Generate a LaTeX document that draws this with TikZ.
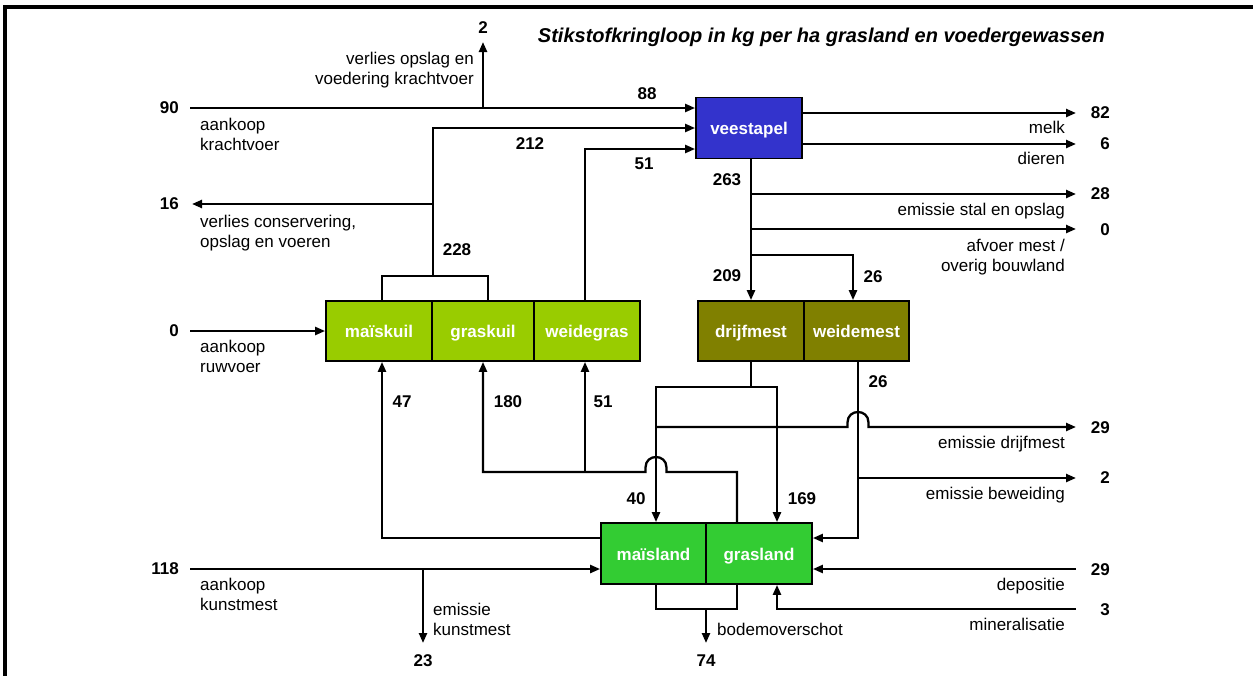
\documentclass[tikz,border=0pt]{standalone}
\usepackage{fontspec}
\setmainfont{Liberation Sans}
\usetikzlibrary{arrows.meta}
\definecolor{cblue}{HTML}{3333CC}
\definecolor{ckuil}{HTML}{99CC00}
\definecolor{cmest}{HTML}{808000}
\definecolor{cland}{HTML}{33CC33}
\begin{document}
\begin{tikzpicture}[x=1pt,y=-1pt,
  flow/.style={line width=2.3pt},
  arr/.style={flow,-{Triangle[length=10pt,width=8pt]}},
  box/.style={draw=black,line width=1.8pt,minimum height=61pt,inner sep=0pt,text height=14pt,text depth=1pt,text=white,font=\fontsize{17}{20}\selectfont\bfseries},
  num/.style={inner sep=0pt,font=\fontsize{17}{20}\selectfont\bfseries},
  lbl/.style={inner sep=0pt,font=\fontsize{17}{20}\selectfont},
]
\useasboundingbox (0,0) rectangle (1253,675);
\clip (0,0) rectangle (1253,675);
\draw[line width=3.5pt] (5,720) -- (5,7) -- (1300,7);

% title
\node[inner sep=0pt,anchor=base east,font=\fontsize{20}{24}\selectfont\bfseries\itshape] (title) at (1105,42) {Stikstofkringloop in kg per ha grasland en voedergewassen};

% boxes
\node[box,fill=cblue,minimum width=106pt] (vee) at (749,128) {veestapel};
\node[box,fill=ckuil,minimum width=106pt,minimum height=60pt] (maiskuil) at (379,331) {maïskuil};
\node[box,fill=ckuil,minimum width=102pt,minimum height=60pt] (graskuil) at (483,331) {graskuil};
\node[box,fill=ckuil,minimum width=106pt,minimum height=60pt] (weidegras) at (587,331) {weidegras};
\node[box,fill=cmest,minimum width=106pt,minimum height=60pt] (drijfmest) at (751,331) {drijfmest};
\node[box,fill=cmest,minimum width=105pt,minimum height=60pt] (weidemest) at (856.5,331) {weidemest};
\node[box,fill=cland,minimum width=105pt] (maisland) at (653.5,553.5) {maïsland};
\node[box,fill=cland,minimum width=106pt] (grasland) at (759,553.5) {grasland};

% helper coordinates
\coordinate (c90) at (190,108);
\coordinate (c2) at (483,42);
\coordinate (j228) at (433,276);
\coordinate (c16) at (192,204);
\coordinate (o82) at (1076,113);
\coordinate (o6) at (1076,144);
\coordinate (o28) at (1076,194);
\coordinate (o0) at (1076,229);
\coordinate (b26) at (751,255);
\coordinate (c0) at (190,331);
\coordinate (md) at (751,387);
\coordinate (o29) at (1076,427);
\coordinate (o2) at (1076,478);
\coordinate (h472) at (737,472);
\coordinate (c118) at (190,569);
\coordinate (o23) at (423,643);
\coordinate (bb) at (706,609);
\coordinate (o74) at (706,643);
\coordinate (i29) at (1076,569);
\coordinate (i3) at (1076,609);
\coordinate (mkn) at ([xshift=3pt]maiskuil.north);
\coordinate (gkn) at ([xshift=5pt]graskuil.north);
\coordinate (mks) at ([xshift=3pt]maiskuil.south);
\coordinate (wgn) at ([xshift=-2pt]weidegras.north);
\coordinate (wgs) at ([xshift=-2pt]weidegras.south);
\coordinate (wmn) at ([xshift=-3.5pt]weidemest.north);
\coordinate (wms) at ([xshift=1.5pt]weidemest.south);
\coordinate (mln) at ([xshift=2.5pt]maisland.north);
\coordinate (mls) at ([xshift=2.5pt]maisland.south);
\coordinate (gln) at ([xshift=-22pt]grasland.north);
\coordinate (gls) at ([xshift=-22pt]grasland.south);
\coordinate (grn) at ([xshift=18pt]grasland.north);
\coordinate (grs) at ([xshift=18pt]grasland.south);

% krachtvoer
\draw[arr] (c90) -- (c90 -| vee.west);
\draw[arr] (c2 |- c90) -- (c2);
% kuil to veestapel
\draw[flow] (mkn) |- (j228) -| (gkn);
\draw[arr] (j228) |- (vee.west);
\draw[arr] (j228 |- c16) -- (c16);
\draw[arr] (wgn) |- ([yshift=-21pt]vee.west);
% veestapel outputs
\draw[arr] (vee.east |- o82) -- (o82);
\draw[arr] (vee.east |- o6) -- (o6);
\draw[arr] (vee.south -| drijfmest.north) -- (drijfmest.north);
\draw[arr] (drijfmest.north |- o28) -- (o28);
\draw[arr] (drijfmest.north |- o0) -- (o0);
\draw[arr] (b26) -| (wmn);
% ruwvoer
\draw[arr] (c0) -- (maiskuil.west);
% drijfmest to land
\draw[flow] (drijfmest.south) -- (md);
\draw[arr] (md) -| (mln);
\draw[arr] (md) -| (grn);
\draw[arr] (mln |- o29) -- (847.5,427) -- (847.5,422.5) .. controls (847.5,408.5) and (868.5,408.5) .. (868.5,422.5) -- (868.5,427) -- (o29);
% weidemest
\draw[arr] (wms) |- ([yshift=15.5pt]grasland.east);
\draw[arr] (wms |- o2) -- (o2);
% land to kuil
\draw[arr] ([yshift=15.5pt]maisland.west) -| (mks);
\draw[arr] (gln) -- (h472) -- (666.5,472) -- (666.5,467.5) .. controls (666.5,453.5) and (645.5,453.5) .. (645.5,467.5) -- (645.5,472) -| (graskuil.south);
\draw[arr] (wgs |- h472) -- (wgs);
% kunstmest
\draw[arr] (c118) -- (c118 -| maisland.west);
\draw[arr] (o23 |- c118) -- (o23);
% bodem
\draw[flow] (mls) |- (bb) -| (gls);
\draw[arr] (bb) -- (o74);
\draw[arr] (i29) -- (i29 -| grasland.east);
\draw[arr] (i3) -| (grs);

% numbers
\node[num,anchor=east] (n90) at (179,108) {90};
\node[num,anchor=east] (n16) at (179,204) {16};
\node[num,anchor=east] (n0) at (179,331) {0};
\node[num,anchor=east] (n118) at (179,569) {118};
\node[num] (n2t) at (483,28) {2};
\node[num] (n88) at (647,94) {88};
\node[num] (n212) at (530,144) {212};
\node[num] (n51t) at (644,164) {51};
\node[num] (n263) at (727,180) {263};
\node[num] (n228) at (457,250) {228};
\node[num] (n209) at (727,276) {209};
\node[num] (n26t) at (873,277) {26};
\node[num] (n47) at (402,402) {47};
\node[num] (n180) at (508,402) {180};
\node[num] (n51b) at (603,402) {51};
\node[num] (n26b) at (878,382) {26};
\node[num] (n40) at (636,499) {40};
\node[num] (n169) at (802,499) {169};
\node[num] (n74) at (706,661) {74};
\node[num] (n23) at (423,661) {23};
\node[num,anchor=east] (n82) at (1110,113) {82};
\node[num,anchor=east] (n6) at (1110,144) {6};
\node[num,anchor=east] (n28) at (1110,194) {28};
\node[num,anchor=east] (n0r) at (1110,230) {0};
\node[num,anchor=east] (n29a) at (1110,428) {29};
\node[num,anchor=east] (n2r) at (1110,478) {2};
\node[num,anchor=east] (n29b) at (1110,570) {29};
\node[num,anchor=east] (n3) at (1110,610) {3};

% labels (base anchor = baseline of last line)
\node[lbl,anchor=base east,align=right] (lverl) at (474,84) {verlies opslag en\\voedering krachtvoer};
\node[lbl,anchor=base west,align=left] (lkv) at (200,150) {aankoop\\krachtvoer};
\node[lbl,anchor=base west,align=left] (lcons) at (200,247) {verlies conservering,\\opslag en voeren};
\node[lbl,anchor=base west,align=left] (lruw) at (200,372) {aankoop\\ruwvoer};
\node[lbl,anchor=base west,align=left] (lkm) at (200,610) {aankoop\\kunstmest};
\node[lbl,anchor=base west,align=left] (lekm) at (433,635) {emissie\\kunstmest};
\node[lbl,anchor=base west] (lbod) at (717,635) {bodemoverschot};
\node[lbl,anchor=base east] (lmelk) at (1065,133) {melk};
\node[lbl,anchor=base east] (ldier) at (1065,164) {dieren};
\node[lbl,anchor=base east] (lstal) at (1065,215) {emissie stal en opslag};
\node[lbl,anchor=base east,align=right] (lafv) at (1065,271) {afvoer mest /\\overig bouwland};
\node[lbl,anchor=base east] (ledm) at (1065,448) {emissie drijfmest};
\node[lbl,anchor=base east] (lebw) at (1065,499) {emissie beweiding};
\node[lbl,anchor=base east] (ldep) at (1065,590) {depositie};
\node[lbl,anchor=base east] (lmin) at (1065,630) {mineralisatie};
\end{tikzpicture}
\end{document}
